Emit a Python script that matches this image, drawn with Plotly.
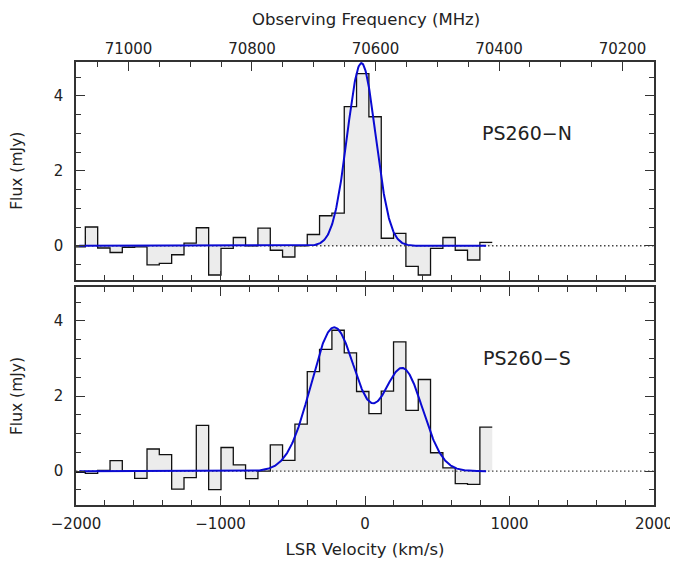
import numpy as np
import plotly.graph_objects as go

# ---------------- data ----------------
# channel centres (LSR velocity, km/s)
VEL = [-1978, -1893, -1807, -1722, -1637, -1551, -1466, -1381, -1295, -1210,
       -1125, -1039, -954, -869, -784, -698, -613, -528, -442, -357,
       -272, -186, -101, -16, 70, 155, 240, 326, 411, 496,
       582, 667, 752, 838]
CHANNEL_WIDTH = 85.3

FLUX_N = [-0.03, 0.50, -0.06, -0.18, -0.04, -0.03, -0.51, -0.47, -0.24, 0.07,
          0.48, -0.78, -0.07, 0.22, 0.00, 0.47, -0.12, -0.30, 0.00, 0.30,
          0.80, 0.87, 3.71, 4.59, 3.44, 0.20, 0.33, -0.55, -0.78, -0.07,
          0.22, -0.12, -0.38, 0.09]

FLUX_S = [-0.03, -0.06, 0.02, 0.28, 0.00, -0.19, 0.59, 0.44, -0.48, -0.17,
          1.22, -0.49, 0.63, 0.17, -0.20, 0.00, 0.70, 0.29, 1.25, 2.65,
          3.24, 3.75, 3.15, 2.12, 1.53, 2.13, 3.44, 1.62, 2.44, 0.49,
          0.09, -0.33, -0.35, 1.17]

# Gaussian fit parameters (amplitude mJy, centre km/s, sigma km/s)
FIT_N_AMP = [4.87]
FIT_N_CEN = [-25]
FIT_N_SIG = [98]
FIT_S_AMP = [3.82, 2.70]
FIT_S_CEN = [-214, 262]
FIT_S_SIG = [160, 138]

VEL_RANGE = [-2000, 2000]
FREQ_RANGE = [71085, 70149]   # top axis (MHz) spanning the same width
FLUX_RANGE = [-0.9, 4.9]
LABEL_N = "PS260\u2212N"
LABEL_S = "PS260\u2212S"
FREQ_TITLE = "Observing Frequency (MHz)"

# ---------------- helpers ----------------
def edges_from_centres(c, w):
    e = [c[0] - w / 2]
    for a, b in zip(c[:-1], c[1:]):
        e.append((a + b) / 2)
    e.append(c[-1] + w / 2)
    return e

def model(v, amps, cens, sigs):
    v = np.asarray(v, dtype=float)
    out = np.zeros_like(v)
    for a, m, s in zip(amps, cens, sigs):
        out += a * np.exp(-0.5 * ((v - m) / s) ** 2)
    return out

EDGES = edges_from_centres(VEL, CHANNEL_WIDTH)
VGRID = np.linspace(VEL[0], VEL[-1], 800)

AXCOL = "#333333"
TXTCOL = "#222222"
BLUE = "#0a0ad2"
FILL = "#ececec"

fig = go.Figure()

def add_panel(flux, amps, cens, sigs, xa, ya):
    fig.add_trace(go.Scatter(
        x=EDGES, y=list(flux) + [flux[-1]], mode="lines", line_shape="hv",
        fill="tozeroy", fillcolor=FILL,
        line=dict(color="#111111", width=1.3),
        xaxis=xa, yaxis=ya, hoverinfo="skip"))
    fig.add_trace(go.Scatter(
        x=VEL_RANGE, y=[0, 0], mode="lines",
        line=dict(color="#444444", width=1.3, dash="1.5px,2.5px"),
        xaxis=xa, yaxis=ya, hoverinfo="skip"))
    fig.add_trace(go.Scatter(
        x=VGRID, y=model(VGRID, amps, cens, sigs), mode="lines",
        line=dict(color=BLUE, width=2),
        xaxis=xa, yaxis=ya, hoverinfo="skip"))

# bottom panel (S) on x / y ; top panel (N) on x2 / y2
add_panel(FLUX_S, FIT_S_AMP, FIT_S_CEN, FIT_S_SIG, "x", "y")
add_panel(FLUX_N, FIT_N_AMP, FIT_N_CEN, FIT_N_SIG, "x2", "y2")

# invisible trace so the frequency axis gets drawn
fig.add_trace(go.Scatter(x=[FREQ_RANGE[0]], y=[0], mode="markers",
                         marker=dict(opacity=0), xaxis="x3", yaxis="y2",
                         hoverinfo="skip"))

TICKFONT = dict(size=15)
TITLEFONT = dict(size=16.5)

common_x = dict(
    range=VEL_RANGE, showgrid=False, zeroline=False, automargin=False,
    showline=True, linecolor=AXCOL, linewidth=1.5,
    ticks="inside", ticklen=9, tickwidth=1.2, tickcolor=AXCOL,
    dtick=1000, tick0=0, tickformat="d", tickfont=TICKFONT,
    minor=dict(dtick=200, ticklen=5, tickwidth=1.2, tickcolor=AXCOL, ticks="inside"),
)
common_y = dict(
    range=FLUX_RANGE, showgrid=False, zeroline=False, automargin=False,
    showline=True, linecolor=AXCOL, linewidth=1.5,
    ticks="inside", ticklen=9, tickwidth=1.2, tickcolor=AXCOL,
    dtick=2, tick0=0, mirror="ticks", tickfont=TICKFONT,
    minor=dict(dtick=0.5, ticklen=5, tickwidth=1.2, tickcolor=AXCOL, ticks="inside"),
    ticklabelstandoff=8,
    title=dict(text="Flux (mJy)", standoff=32, font=dict(size=15.5)),
)

# the page body adds an 8 px offset, so margins are shifted to keep the
# plotting area at the reference position
fig.update_layout(
    width=678, height=567,
    margin=dict(l=68, r=32, t=54, b=70),
    plot_bgcolor="white", paper_bgcolor="white",
    showlegend=False,
    font=dict(family="DejaVu Sans", size=15, color=TXTCOL),
    xaxis=dict(**common_x, domain=[0, 1], anchor="y", mirror="ticks",
               ticklabelstandoff=4,
               title=dict(text="LSR Velocity (km/s)", standoff=12, font=TITLEFONT)),
    yaxis=dict(**common_y, domain=[0, 0.492], anchor="x"),
    xaxis2=dict(**common_x, domain=[0, 1], anchor="y2", matches="x",
                showticklabels=False, mirror=False),
    yaxis2=dict(**common_y, domain=[0.509, 1], anchor="x2"),
    xaxis3=dict(range=FREQ_RANGE, overlaying="x2", anchor="y2", side="top",
                showgrid=False, zeroline=False, automargin=False,
                showline=True, linecolor=AXCOL, linewidth=1.5,
                ticks="inside", ticklen=9, tickwidth=1.2, tickcolor=AXCOL,
                dtick=200, tick0=0, tickformat="d", ticklabelstandoff=0,
                tickfont=TICKFONT,
                minor=dict(dtick=50, ticklen=5, tickwidth=1.2, tickcolor=AXCOL, ticks="inside")),
    annotations=[
        dict(x=0.502, y=1.1219, xref="paper", yref="paper", text=FREQ_TITLE,
             showarrow=False, xanchor="center", yanchor="top",
             font=dict(size=16.5, color=TXTCOL)),
        dict(x=1120, y=3.0, xref="x2", yref="y2", text=LABEL_N, showarrow=False,
             font=dict(size=19, color=TXTCOL)),
        dict(x=1120, y=3.0, xref="x", yref="y", text=LABEL_S, showarrow=False,
             font=dict(size=19, color=TXTCOL)),
    ],
)

fig.write_html("out.html")
